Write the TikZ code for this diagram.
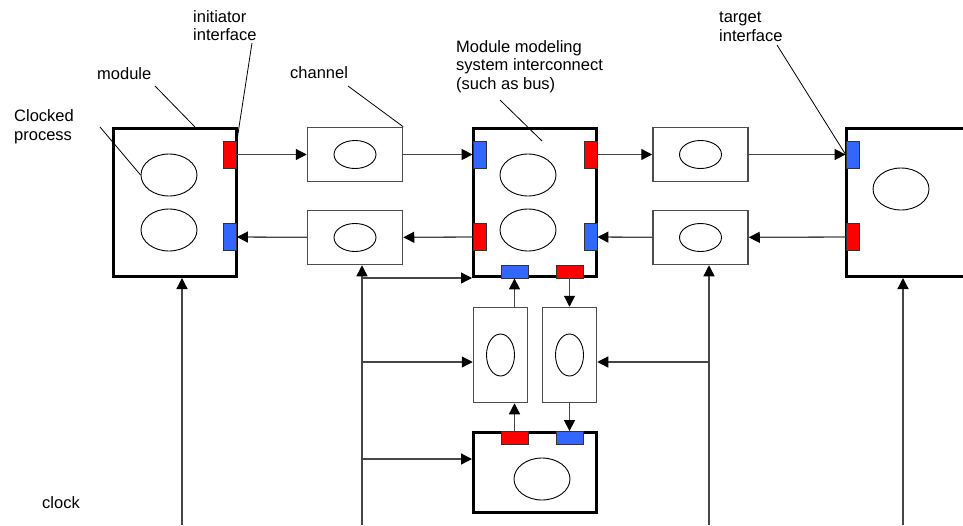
\documentclass[tikz,border=0pt]{standalone}
\usepackage{fontspec}
\setmainfont{Liberation Sans}
\usetikzlibrary{arrows.meta,shapes.geometric,calc}
\definecolor{portred}{RGB}{255,0,0}
\definecolor{portblue}{RGB}{51,102,255}
\definecolor{wire}{RGB}{70,70,70}
\newcommand{\notefont}{\fontsize{16.5}{18.5}\selectfont}
\tikzset{
  >={Triangle[length=11pt,width=11pt,color=black]},
  module/.style={draw=black,line width=3pt,minimum width=123pt,minimum height=148pt,inner sep=0pt},
  chan/.style={draw=black!70,line width=1.5pt,minimum width=95pt,minimum height=54pt,inner sep=0pt},
  vchan/.style={chan,minimum width=54pt,minimum height=95pt},
  proc/.style={ellipse,draw=black,line width=0.9pt,minimum width=56pt,minimum height=42pt,inner sep=0pt},
  small proc/.style={proc,minimum width=42pt,minimum height=28pt},
  tall proc/.style={proc,minimum width=28pt,minimum height=42pt},
  port/.style={draw=black!80,line width=0.8pt,fill=#1,minimum width=13pt,minimum height=27pt,inner sep=0pt},
  hport/.style={port=#1,minimum width=27pt,minimum height=13pt},
  link/.style={->,draw=wire,line width=1.3pt},
  lead/.style={draw=black,line width=0.8pt},
  note/.style={font=\notefont,align=left,inner sep=0pt,anchor=base west},
}

\begin{document}
\begin{tikzpicture}[x=1pt,y=-1pt]
  \useasboundingbox (0,0) rectangle (963,525);
  \clip (0,0) rectangle (963,525);
  % modules
  \node[module] (m1) at (175,202.5) {};
  \node[module] (m2) at (535,202.5) {};
  \node[module] (m3) at (908,202.5) {};
  \node[module,minimum height=80pt] (mb) at (535,472.5) {};
  \node[proc] (p1a) at (169,175) {};
  \node[proc] (p1b) at (169,230) {};
  \node[proc] (p2a) at (528,175) {};
  \node[proc] (p2b) at (528,230) {};
  \node[proc] (p3) at (901,189) {};
  \node[proc] (pb) at (542,479) {};
  % interfaces
  \node[port=portred] (m1o) at (230,154.5) {};
  \node[port=portblue] (m1i) at (230,237) {};
  \node[port=portblue] (m2wi) at (479.5,154.5) {};
  \node[port=portred] (m2wo) at (479.5,237) {};
  \node[port=portred] (m2eo) at (590.5,154.5) {};
  \node[port=portblue] (m2ei) at (590.5,237) {};
  \node[hport=portblue] (m2si) at (514.5,271.5) {};
  \node[hport=portred] (m2so) at (569.5,271.5) {};
  \node[port=portblue] (m3i) at (852.5,154.5) {};
  \node[port=portred] (m3o) at (852.5,237) {};
  \node[hport=portred] (mbo) at (514.5,438) {};
  \node[hport=portblue] (mbi) at (569.5,438) {};
  % channels
  \node[chan] (c1) at (355,154.5) {};
  \node[chan] (c2) at (355,237.5) {};
  \node[chan] (c3) at (700.5,154.5) {};
  \node[chan] (c4) at (700.5,237.5) {};
  \node[vchan] (cl) at (500.5,355) {};
  \node[vchan] (cr) at (569.5,355) {};
  \node[small proc] at (c1) {};
  \node[small proc] at (c2) {};
  \node[small proc] at (c3) {};
  \node[small proc] at (c4) {};
  \node[tall proc] at (cl) {};
  \node[tall proc] at (cr) {};
  % data flow
  \draw[link] (m1o) -- (c1);
  \draw[link] (c1) -- (m2wi);
  \draw[link] (m2eo) -- (c3);
  \draw[link] (c3) -- (m3i);
  \draw[link] (m3o) -- (c4);
  \draw[link] (c4) -- (m2ei);
  \draw[link] (m2wo) -- (c2);
  \draw[link] (c2) -- (m1i);
  \draw[link] (m2si |- cl.north) -- (m2si);
  \draw[link] (m2so) -- (cr);
  \draw[link] (mbo) -- (mbo |- cl.south);
  \draw[link] (cr) -- (mbi);
  % clock
  \coordinate (k1) at (182,525);
  \coordinate (k2) at (362,525);
  \coordinate (k3) at (709,525);
  \coordinate (k4) at (903,525);
  \coordinate (b1) at (362,278);
  \coordinate (b2) at (362,362);
  \coordinate (b3) at (362,459);
  \draw[link] (k1) -- (k1 |- m1.south);
  \draw[link] (k2) -- (k2 |- c2.south);
  \draw[link] (k3) -- (k3 |- c4.south);
  \draw[link] (k4) -- (k4 |- m3.south);
  \draw[link] (b1) -- (b1 -| m2.west);
  \draw[link] (b2) -- (b2 -| cl.west);
  \draw[link] (b3) -- (b3 -| mb.west);
  \draw[link] (b2 -| k3) -- (b2 -| cr.east);
  % labels
  \node[note] (tInit) at (193,40.5) {initiator\\interface};
  \node[note] (tMod) at (97,79) {module};
  \node[note] (tProc) at (14,140) {Clocked\\process};
  \node[note] (tChan) at (290,78) {channel};
  \node[note] (tBus) at (456,89) {Module modeling\\system interconnect\\(such as bus)};
  \node[note] (tTarg) at (719,41) {target\\interface};
  \node[note] (tClk) at (42,508) {clock};
  \coordinate (lInit) at (252,43);
  \coordinate (lMod) at (155,86);
  \coordinate (lProc) at (100,127);
  \coordinate (lChan) at (348,86);
  \coordinate (lBus) at (500,100);
  \coordinate (lTarg) at (777,45);
  \draw[lead] (lInit) -- (m1o.north east);
  \draw[lead] (lMod) -- (195,127);
  \draw[lead] (lProc) -- (p1a.west);
  \draw[lead] (lChan) -- (c1.north east);
  \draw[lead] (lBus) -- (542,141);
  \draw[lead] (lTarg) -- (m3i.west);
\end{tikzpicture}
\end{document}
